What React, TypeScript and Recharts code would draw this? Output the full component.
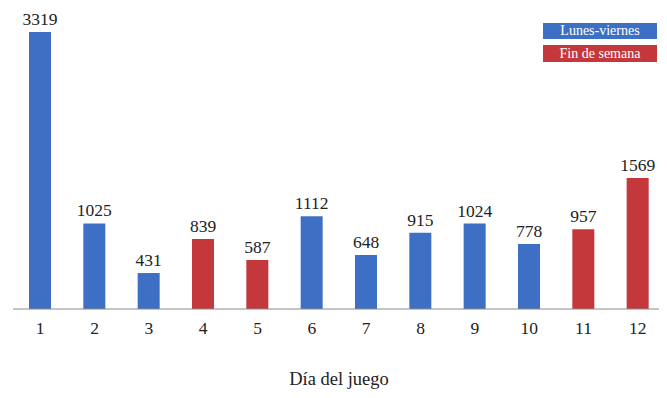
import { Bar, BarChart, Cell, LabelList, XAxis, YAxis } from "recharts";

const days = ["1", "2", "3", "4", "5", "6", "7", "8", "9", "10", "11", "12"];
const visits = [3319, 1025, 431, 839, 587, 1112, 648, 915, 1024, 778, 957, 1569];
const weekend = [false, false, false, true, true, false, false, false, false, false, true, true];

const BLUE = "#3d70c4";
const RED = "#c4373a";
const FONT = "'Liberation Serif', 'Times New Roman', serif";

const data = days.map((day, i) => ({ day, visits: visits[i], weekend: weekend[i] }));

const LegendBox = () => (
  <div style={{ position: "absolute", left: 543, top: 23, width: 114, fontFamily: FONT, fontSize: 14, color: "#fff" }}>
    <div style={{ background: BLUE, height: 16, lineHeight: "16px", textAlign: "center" }}>Lunes-viernes</div>
    <div style={{ background: RED, height: 17, lineHeight: "17px", textAlign: "center", marginTop: 6 }}>Fin de semana</div>
  </div>
);

export default function App() {
  return (
    <div style={{ margin: -8, position: "relative", width: 667, height: 398, background: "#fff" }}>
      <BarChart width={667} height={398} data={data} margin={{ top: 32, right: 2, left: 13, bottom: 0 }} barCategoryGap={16}>
        <YAxis hide domain={[0, 3319]} />
        <XAxis
          dataKey="day"
          height={89}
          stroke="#8a8a8a"
          tickLine={false}
          tickSize={0}
          tickMargin={13}
          tick={{ fill: "#222", fontSize: 17.5, fontFamily: FONT }}
          label={{ value: "Día del juego", position: "insideBottom", offset: 13, fill: "#222", fontSize: 18.5, fontFamily: FONT }}
        />
        <Bar dataKey="visits" isAnimationActive={false}>
          {data.map((d) => (
            <Cell key={d.day} fill={d.weekend ? RED : BLUE} />
          ))}
          <LabelList dataKey="visits" position="top" offset={7} fill="#222" fontSize={17.5} fontFamily={FONT} />
        </Bar>
      </BarChart>
      <LegendBox />
    </div>
  );
}
